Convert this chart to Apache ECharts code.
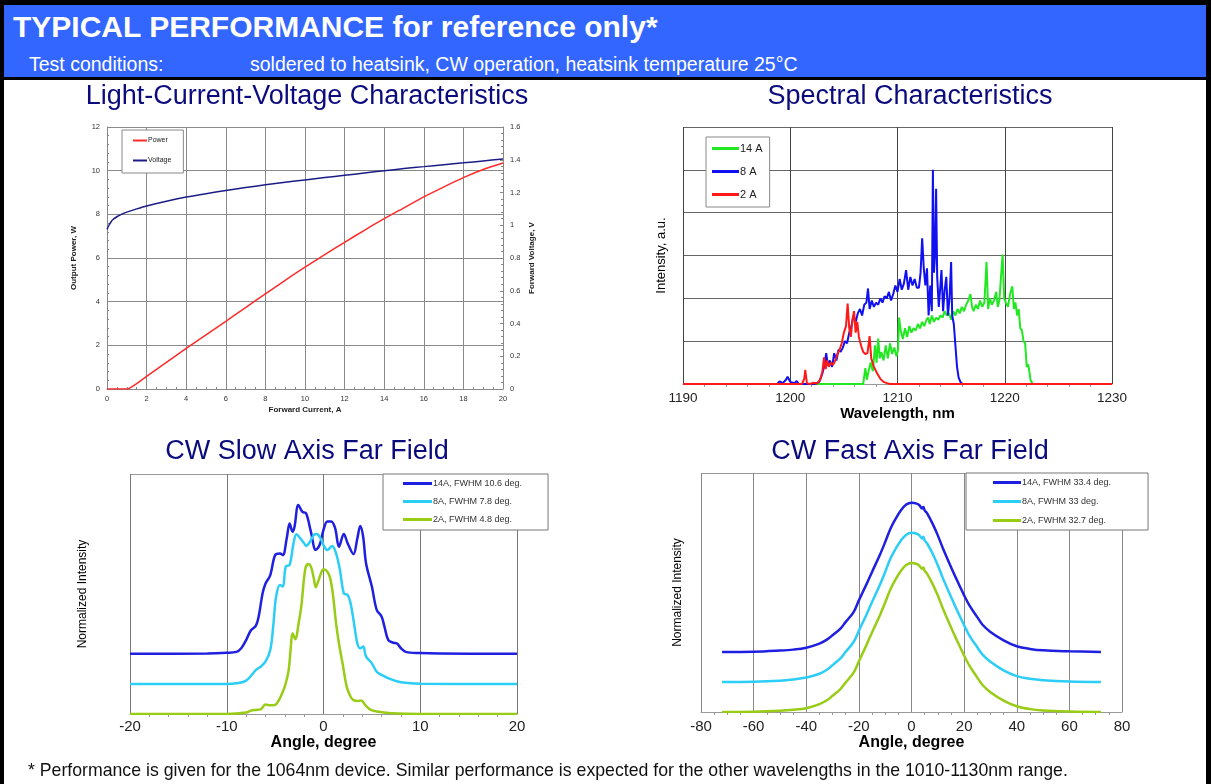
<!DOCTYPE html>
<html>
<head>
<meta charset="utf-8">
<script src="https://cdn.jsdelivr.net/npm/echarts@6/dist/echarts.min.js"></script>
<style>
  body { margin: 0; background: #fff; }
  #page { position: relative; width: 1211px; height: 784px; overflow: hidden; background: #fff; font-family: "Liberation Sans", Arial, sans-serif; }
  #chart { position: absolute; left: 0; top: 0; width: 1211px; height: 784px; }
  .bar { position: absolute; background: #000; z-index: 3; }
  #head { position: absolute; left: 4px; top: 5px; width: 1202px; height: 72px; background: #3366ff; color: #fff; z-index: 2; }
  #head .t1 { position: absolute; left: 9px; top: 5px; font-size: 30px; font-weight: bold; line-height: 34px; white-space: nowrap; }
  #head .t2 { position: absolute; left: 25px; top: 48px; font-size: 19.5px; line-height: 22px; white-space: nowrap; }
  #head .t3 { position: absolute; left: 246px; top: 48px; font-size: 19.5px; line-height: 22px; white-space: nowrap; }
  #note { position: absolute; left: 28px; top: 759px; font-size: 17.7px; line-height: 22px; color: #111; white-space: nowrap; z-index: 2; }
</style>
</head>
<body>
<div id="page">
  <div id="chart"></div>
  <div id="head">
    <div class="t1">TYPICAL PERFORMANCE for reference only*</div>
    <div class="t2">Test conditions:</div>
    <div class="t3">soldered to heatsink, CW operation, heatsink temperature 25°C</div>
  </div>
  <div class="bar" style="left:0;top:0;width:1211px;height:5px"></div>
  <div class="bar" style="left:0;top:0;width:4px;height:784px"></div>
  <div class="bar" style="left:1206px;top:0;width:5px;height:784px"></div>
  <div class="bar" style="left:0;top:77px;width:1211px;height:3px"></div>
  <div id="note">* Performance is given for the 1064nm device. Similar performance is expected for the other wavelengths in the 1010-1130nm range.</div>
</div>
<script>
// ---- Light-Current-Voltage: [current A, value]
var livPower = [[0,0],[0.5,0],[1,0],[1.1,0.02],[1.5,0.25],[2,0.58],[3,1.22],[4,1.86],[5,2.48],[6,3.1],[7,3.73],[8,4.36],[9,4.98],[10,5.58],[11,6.15],[12,6.72],[13,7.27],[14,7.8],[15,8.3],[16,8.8],[17,9.25],[18,9.68],[19,10.05],[20,10.35]];
var livVoltage = [[0,0.975],[0.1,1.0],[0.2,1.02],[0.3,1.035],[0.5,1.052],[0.75,1.068],[1,1.08],[1.5,1.1],[2,1.118],[3,1.147],[4,1.172],[5,1.193],[6,1.212],[7,1.23],[8,1.247],[9,1.262],[10,1.277],[11,1.291],[12,1.305],[13,1.319],[14,1.333],[15,1.346],[16,1.358],[17,1.37],[18,1.381],[19,1.393],[20,1.404]];

// ---- Spectra: [wavelength nm, intensity a.u.]
var spec14A = [[1190,0],[1206.8,0],[1207.0,0.37],[1207.15,0.1],[1207.3,0.3],[1207.5,0.5],[1207.7,0.3],[1207.9,0.9],[1208.05,0.5],[1208.2,1.06],[1208.35,0.6],[1208.5,0.75],[1208.7,0.55],[1208.9,0.9],[1209.1,0.6],[1209.3,0.95],[1209.5,0.7],[1209.7,0.85],[1209.9,0.65],[1210.05,0.8],[1210.15,1.55],[1210.3,1.25],[1210.5,1.05],[1210.7,1.3],[1210.9,1.1],[1211.1,1.35],[1211.3,1.2],[1211.5,1.3],[1211.7,1.25],[1211.9,1.4],[1212.1,1.3],[1212.3,1.45],[1212.5,1.35],[1212.7,1.5],[1212.85,1.55],[1213.0,1.4],[1213.2,1.6],[1213.4,1.45],[1213.6,1.55],[1213.8,1.5],[1214.0,1.6],[1214.2,1.55],[1214.4,1.7],[1214.6,1.6],[1214.8,1.65],[1215.0,1.5],[1215.2,1.7],[1215.4,1.6],[1215.6,1.75],[1215.8,1.65],[1216.0,1.8],[1216.2,1.7],[1216.4,1.85],[1216.6,1.95],[1216.8,2.1],[1216.95,1.8],[1217.1,1.7],[1217.3,1.85],[1217.5,1.75],[1217.7,1.95],[1217.9,1.8],[1218.1,1.9],[1218.3,2.85],[1218.45,1.75],[1218.6,2.0],[1218.8,1.85],[1219.0,1.95],[1219.2,2.15],[1219.35,1.8],[1219.5,1.95],[1219.65,2.5],[1219.8,3.02],[1219.95,2.0],[1220.1,1.9],[1220.3,1.8],[1220.5,2.1],[1220.7,2.28],[1220.85,1.75],[1221.0,1.9],[1221.15,1.6],[1221.3,1.75],[1221.45,1.3],[1221.6,1.25],[1221.75,1.0],[1221.9,0.95],[1222.05,0.4],[1222.2,0.45],[1222.4,0.1],[1222.6,0],[1230,0]];
var spec8A = [[1190,0],[1198.8,0],[1199.0,0.06],[1199.3,0.02],[1199.6,0.1],[1199.75,0.17],[1200.0,0.05],[1200.4,0.02],[1200.6,0.07],[1200.8,0],[1202.3,0],[1202.7,0.05],[1203.0,0.25],[1203.2,0.45],[1203.35,0.72],[1203.5,0.45],[1203.7,0.55],[1203.9,0.4],[1204.1,0.72],[1204.3,0.55],[1204.5,0.8],[1204.7,0.75],[1204.9,0.85],[1205.1,1.0],[1205.3,0.95],[1205.5,1.2],[1205.7,1.35],[1205.9,1.6],[1206.1,1.45],[1206.3,1.65],[1206.5,1.75],[1206.7,1.6],[1206.9,1.85],[1207.1,1.9],[1207.25,2.23],[1207.4,1.75],[1207.6,1.95],[1207.8,1.8],[1208.0,1.9],[1208.2,1.85],[1208.4,2.0],[1208.6,1.9],[1208.8,2.05],[1209.0,2.0],[1209.2,2.15],[1209.4,1.95],[1209.6,2.1],[1209.8,2.3],[1210.0,2.15],[1210.2,2.45],[1210.4,2.2],[1210.6,2.35],[1210.8,2.66],[1211.0,2.2],[1211.2,2.5],[1211.4,2.3],[1211.6,2.45],[1211.8,2.25],[1212.0,2.25],[1212.15,2.6],[1212.3,3.4],[1212.45,2.7],[1212.6,2.3],[1212.75,2.7],[1212.9,1.6],[1213.05,2.3],[1213.2,1.7],[1213.3,5.0],[1213.4,2.6],[1213.5,3.0],[1213.6,4.56],[1213.7,2.5],[1213.85,1.8],[1214.0,2.3],[1214.1,2.66],[1214.25,1.7],[1214.4,2.2],[1214.55,2.5],[1214.7,1.6],[1214.85,2.0],[1215.0,2.85],[1215.1,1.6],[1215.25,1.4],[1215.4,0.9],[1215.55,0.4],[1215.7,0.15],[1215.9,0.03],[1216.1,0],[1230,0]];
var spec2A = [[1190,0],[1201.1,0],[1201.3,0.12],[1201.4,0.33],[1201.55,0.02],[1201.8,0],[1202.2,0.03],[1202.5,0.01],[1202.8,0.1],[1203.0,0.3],[1203.15,0.62],[1203.3,0.35],[1203.45,0.55],[1203.6,0.4],[1203.8,0.5],[1204.0,0.45],[1204.2,0.55],[1204.4,0.7],[1204.6,0.8],[1204.8,0.95],[1205.0,1.2],[1205.2,1.35],[1205.35,1.88],[1205.5,1.3],[1205.65,1.1],[1205.8,1.5],[1205.95,1.7],[1206.1,1.2],[1206.25,1.45],[1206.4,1.1],[1206.6,0.9],[1206.8,0.75],[1207.0,0.7],[1207.2,0.72],[1207.4,1.12],[1207.55,0.6],[1207.8,0.4],[1208.1,0.25],[1208.4,0.12],[1208.7,0.05],[1209.0,0.02],[1209.3,0],[1230,0]];

// ---- Slow axis far field: [angle deg, normalized intensity, offset]
var slow14A = [[-20,25.1],[-12,25.2],[-10,25.5],[-9,25.9],[-8.5,27.4],[-8,30.8],[-7.5,34.9],[-7,36.7],[-6.7,40.6],[-6.3,50.2],[-6,54.3],[-5.5,57.9],[-5,66.2],[-4.5,66.9],[-4.2,66.2],[-3.8,73.2],[-3.5,79.4],[-3.2,75.9],[-3,77.9],[-2.6,87.1],[-2.2,84.3],[-1.8,83.6],[-1.3,75.9],[-0.8,68.4],[-0.4,70.4],[0,76.7],[0.4,80.2],[0.8,80.2],[1.2,77.4],[1.6,69.7],[2.1,75],[2.5,71.1],[3.1,66.6],[3.5,73.2],[3.8,78.3],[4.1,73.8],[4.4,62.7],[5,53.1],[5.5,43.4],[6,40.6],[6.3,36.4],[6.7,30.8],[7.2,29.7],[7.6,29.4],[8,27.4],[8.5,25.9],[10,25.4],[12,25.2],[20,25.1]];
var slow8A = [[-20,12.5],[-10,12.5],[-9,12.8],[-8,13.9],[-7,18.3],[-6.5,19.7],[-6,21.8],[-5.5,26.7],[-5.2,36.4],[-4.9,48.9],[-4.5,53.8],[-4.2,53.1],[-3.9,61.4],[-3.5,62.1],[-3.1,71.1],[-2.8,74.9],[-2.4,73.2],[-2,71.1],[-1.8,70],[-1.4,71.8],[-1,74.6],[-0.7,75],[-0.3,73.2],[0,70.4],[0.4,68.3],[0.9,70],[1.3,66.9],[1.7,60],[2.1,50.3],[2.5,49.6],[2.8,46.1],[3.1,39.2],[3.5,29.4],[3.8,27.4],[4.1,28.1],[4.4,23.9],[5,21.1],[5.5,17.6],[6,16.3],[7,14.4],[8,13.2],[10,12.6],[20,12.5]];
var slow2A = [[-20,0],[-10,0],[-8,0.6],[-7.5,1.4],[-7,1.7],[-6.5,1.9],[-6,4],[-5.5,3.6],[-5,3.8],[-4.6,5.8],[-4.2,9.3],[-3.9,12.8],[-3.6,18.3],[-3.4,26.7],[-3.2,33.6],[-2.9,31.1],[-2.6,37.1],[-2.3,44.7],[-1.9,60],[-1.6,62.5],[-1.3,61.4],[-1,56.5],[-0.8,52.8],[-0.5,55.8],[-0.2,59.3],[0,60.3],[0.4,59.3],[0.7,56.5],[1,48.9],[1.3,37.8],[1.6,29.4],[2,20.4],[2.4,11.4],[2.8,7.2],[3.1,5.8],[3.5,5.4],[3.9,5.6],[4.3,3.8],[4.8,1.9],[5.5,1],[7,0.3],[10,0],[20,0]];

// ---- Fast axis far field: [angle deg, normalized intensity]
var fast14A = [[-72,25.1],[-60,25.2],[-50,25.7],[-45,26.1],[-40,26.9],[-35,28.6],[-32,30.4],[-30,32.1],[-27,34.9],[-25,37.7],[-22,41.8],[-20,46.7],[-17,53.7],[-15,58.6],[-12,65.8],[-10,71.1],[-8,76.7],[-6,80.9],[-4,84.4],[-2,86.8],[0,87.6],[2,87.2],[3,86.5],[4,85.1],[4.5,85.8],[5,84.4],[6,83],[8,78.8],[10,73.9],[12,68.3],[15,60.7],[17,55.8],[20,48.8],[22,44.6],[25,39.7],[27,36.5],[30,33.5],[35,30],[40,27.5],[45,26.4],[50,25.8],[60,25.4],[72,25.1]];
var fast8A = [[-72,12.6],[-60,12.7],[-50,13.1],[-45,13.6],[-40,14.4],[-35,16.0],[-32,17.8],[-30,19.6],[-27,22.4],[-25,25.2],[-22,29.3],[-20,34.0],[-17,41.0],[-15,46.0],[-12,53.2],[-10,58.6],[-8,64.2],[-6,68.4],[-4,71.8],[-2,74.2],[0,75.0],[2,74.6],[3,73.9],[4,72.6],[4.5,73.3],[5,71.8],[6,70.4],[8,66.3],[10,61.4],[12,55.8],[15,48.2],[17,43.3],[20,36.3],[22,32.0],[25,27.1],[27,24.0],[30,21.0],[35,17.4],[40,15.0],[45,13.9],[50,13.3],[60,12.8],[72,12.6]];
var fast2A = [[-72,0],[-60,0.1],[-50,0.5],[-45,0.9],[-40,1.6],[-35,3.3],[-32,5.0],[-30,6.8],[-27,9.6],[-25,12.4],[-22,16.5],[-20,21.2],[-17,28.3],[-15,33.3],[-12,40.5],[-10,45.8],[-8,51.4],[-6,55.6],[-4,59.1],[-2,61.5],[0,62.3],[2,61.9],[3,61.2],[4,59.9],[4.5,60.5],[5,59.1],[6,57.7],[8,53.6],[10,48.7],[12,43.1],[15,35.5],[17,30.6],[20,23.6],[22,19.4],[25,14.4],[27,11.3],[30,8.3],[35,4.8],[40,2.4],[45,1.2],[50,0.6],[60,0.2],[72,0]];

var navy = "#0b0b7d";
var chart = echarts.init(document.getElementById("chart"));

// shared helper for the lower/spectral x axes
function bottomAxis(idx, min, max, interval, minorSplit, name, fs, nfs, margin, gap, gridColor) {
  return {
    type: "value", gridIndex: idx, min: min, max: max, interval: interval,
    name: name, nameLocation: "middle", nameGap: gap,
    nameTextStyle: { fontSize: nfs, fontWeight: "bold", color: "#000" },
    axisLine: { show: true, lineStyle: { color: "#999", width: 1 } },
    axisTick: { show: false },
    minorTick: { show: true, splitNumber: minorSplit, length: 3, lineStyle: { color: "#999" } },
    axisLabel: { fontSize: fs, color: "#222", margin: margin, formatter: function (v) { return String(v); } },
    splitLine: { show: true, lineStyle: { color: gridColor, width: 1 } }
  };
}

var option = {
  animation: false,
  textStyle: { fontFamily: "Liberation Sans, Arial, sans-serif" },
  graphic: [
    { type: "text", x: 307, y: 97, style: { text: "Light-Current-Voltage Characteristics", font: "27px Liberation Sans", fill: navy, align: "center", verticalAlign: "middle" } },
    { type: "text", x: 910, y: 97, style: { text: "Spectral Characteristics", font: "27px Liberation Sans", fill: navy, align: "center", verticalAlign: "middle" } },
    { type: "text", x: 307, y: 452, style: { text: "CW Slow Axis Far Field", font: "27px Liberation Sans", fill: navy, align: "center", verticalAlign: "middle" } },
    { type: "text", x: 910, y: 452, style: { text: "CW Fast Axis Far Field", font: "27px Liberation Sans", fill: navy, align: "center", verticalAlign: "middle" } }
  ],
  grid: [
    { left: 107, top: 127, width: 396, height: 262 },
    { left: 683, top: 127, width: 429, height: 257 },
    { left: 130, top: 474, width: 387, height: 240 },
    { left: 701, top: 473, width: 421, height: 239 }
  ],
  legend: [
    {
      data: ["Power", "Voltage"], orient: "vertical", left: 122, top: 130,
      padding: [7, 12, 9, 11], itemGap: 13, itemWidth: 14, itemHeight: 2, icon: "rect",
      borderColor: "#888", borderWidth: 1, backgroundColor: "#fff",
      textStyle: { fontSize: 7, color: "#222", padding: [0, 0, 0, -4] }
    },
    {
      data: ["14 A", "8 A", "2 A"], orient: "vertical", left: 706, top: 137,
      padding: [6, 7, 7, 6], itemGap: 12, itemWidth: 27, itemHeight: 3, icon: "rect",
      borderColor: "#888", borderWidth: 1, backgroundColor: "#fff",
      textStyle: { fontSize: 11, color: "#222", padding: [0, 0, 0, -4] }
    },
    {
      data: ["14A, FWHM 10.6 deg.", "8A, FWHM 7.8 deg.", "2A, FWHM 4.8 deg."], orient: "vertical", left: 383, top: 474,
      padding: [5, 26, 6, 20], itemGap: 9, itemWidth: 29, itemHeight: 3, icon: "rect",
      borderColor: "#777", borderWidth: 1, backgroundColor: "#fff",
      textStyle: { fontSize: 9, color: "#333", padding: [0, 0, 0, -4] }
    },
    {
      data: ["14A, FWHM 33.4 deg.", "8A, FWHM 33 deg.", "2A, FWHM 32.7 deg."], orient: "vertical", left: 966, top: 473,
      padding: [5, 37, 5, 27], itemGap: 10, itemWidth: 28, itemHeight: 3, icon: "rect",
      borderColor: "#777", borderWidth: 1, backgroundColor: "#fff",
      textStyle: { fontSize: 9, color: "#333", padding: [0, 0, 0, -4] }
    }
  ],
  xAxis: [
    {
      type: "value", gridIndex: 0, min: 0, max: 20, interval: 2,
      name: "Forward Current, A", nameLocation: "middle", nameGap: 17,
      nameTextStyle: { fontSize: 8, fontWeight: "bold", color: "#222" },
      axisLine: { lineStyle: { color: "#888" } },
      axisTick: { inside: true, length: 3, lineStyle: { color: "#888" } },
      minorTick: { show: true, splitNumber: 4, length: 2, lineStyle: { color: "#888" } },
      axisLabel: { fontSize: 7.5, color: "#333", margin: 6 },
      splitLine: { show: true, lineStyle: { color: "#8a8a8a" } }
    },
    bottomAxis(1, 1190, 1230, 10, 5, "Wavelength, nm", 13.5, 15, 7, 20, "#444"),
    bottomAxis(2, -20, 20, 10, 5, "Angle, degree", 15, 16, 5, 15, "#777"),
    bottomAxis(3, -80, 80, 20, 4, "Angle, degree", 15, 16, 7, 16, "#888")
  ],
  yAxis: [
    {
      type: "value", gridIndex: 0, min: 0, max: 12, interval: 2,
      name: "Output Power, W", nameLocation: "middle", nameGap: 29,
      nameTextStyle: { fontSize: 8, fontWeight: "bold", color: "#222" },
      axisLine: { show: true, lineStyle: { color: "#888" } },
      axisTick: { show: true, inside: true, length: 3, lineStyle: { color: "#888" } },
      minorTick: { show: true, splitNumber: 5, length: 2, lineStyle: { color: "#888" } },
      axisLabel: { fontSize: 7.5, color: "#333", margin: 7 },
      splitLine: { show: true, lineStyle: { color: "#8a8a8a" } }
    },
    {
      type: "value", gridIndex: 0, position: "right", min: 0, max: 1.6, interval: 0.2,
      name: "Forward Voltage, V", nameLocation: "middle", nameGap: 25,
      nameTextStyle: { fontSize: 8, fontWeight: "bold", color: "#222" },
      axisLine: { show: true, lineStyle: { color: "#888" } },
      axisTick: { show: true, inside: true, length: 3, lineStyle: { color: "#888" } },
      minorTick: { show: true, splitNumber: 5, length: 2, lineStyle: { color: "#888" } },
      axisLabel: { fontSize: 7.5, color: "#333", margin: 7 },
      splitLine: { show: false }
    },
    {
      type: "value", gridIndex: 1, min: 0, max: 6, interval: 1,
      name: "Intensity, a.u.", nameLocation: "middle", nameGap: 15,
      nameTextStyle: { fontSize: 13, color: "#000" },
      axisLine: { show: false }, axisTick: { show: false }, axisLabel: { show: false },
      splitLine: { show: true, lineStyle: { color: "#666" } }
    },
    {
      type: "value", gridIndex: 2, min: 0, max: 100, interval: 100,
      name: "Normalized Intensity", nameLocation: "middle", nameGap: 41,
      nameTextStyle: { fontSize: 12, color: "#000" },
      axisLine: { show: false }, axisTick: { show: false }, axisLabel: { show: false },
      splitLine: { show: true, lineStyle: { color: "#999" } }
    },
    {
      type: "value", gridIndex: 3, min: 0, max: 100, interval: 100,
      name: "Normalized Intensity", nameLocation: "middle", nameGap: 17,
      nameTextStyle: { fontSize: 12, color: "#000" },
      axisLine: { show: false }, axisTick: { show: false }, axisLabel: { show: false },
      splitLine: { show: true, lineStyle: { color: "#999" } }
    }
  ],
  series: [
    { name: "Power", type: "line", xAxisIndex: 0, yAxisIndex: 0, data: livPower, symbol: "none", smooth: 0.3, lineStyle: { color: "#ff2a2a", width: 1.5 }, itemStyle: { color: "#ff2a2a" } },
    { name: "Voltage", type: "line", xAxisIndex: 0, yAxisIndex: 1, data: livVoltage, symbol: "none", smooth: 0.3, lineStyle: { color: "#1c1c86", width: 1.5 }, itemStyle: { color: "#1c1c86" } },

    { name: "14 A", type: "line", xAxisIndex: 1, yAxisIndex: 2, data: spec14A, symbol: "none", lineStyle: { color: "#22e822", width: 2 }, itemStyle: { color: "#22e822" } },
    { name: "8 A", type: "line", xAxisIndex: 1, yAxisIndex: 2, data: spec8A, symbol: "none", lineStyle: { color: "#1010f0", width: 2 }, itemStyle: { color: "#1010f0" } },
    { name: "2 A", type: "line", xAxisIndex: 1, yAxisIndex: 2, data: spec2A, symbol: "none", lineStyle: { color: "#ff1a1a", width: 2 }, itemStyle: { color: "#ff1a1a" } },

    { name: "14A, FWHM 10.6 deg.", type: "line", xAxisIndex: 2, yAxisIndex: 3, data: slow14A, symbol: "none", smooth: 0.35, lineStyle: { color: "#1f1fe0", width: 2.5 }, itemStyle: { color: "#1f1fe0" } },
    { name: "8A, FWHM 7.8 deg.", type: "line", xAxisIndex: 2, yAxisIndex: 3, data: slow8A, symbol: "none", smooth: 0.35, lineStyle: { color: "#2ccdf6", width: 2.5 }, itemStyle: { color: "#2ccdf6" } },
    { name: "2A, FWHM 4.8 deg.", type: "line", xAxisIndex: 2, yAxisIndex: 3, data: slow2A, symbol: "none", smooth: 0.35, lineStyle: { color: "#99cc14", width: 2.5 }, itemStyle: { color: "#99cc14" } },

    { name: "14A, FWHM 33.4 deg.", type: "line", xAxisIndex: 3, yAxisIndex: 4, data: fast14A, symbol: "none", smooth: 0.35, lineStyle: { color: "#1f1fe0", width: 2.5 }, itemStyle: { color: "#1f1fe0" } },
    { name: "8A, FWHM 33 deg.", type: "line", xAxisIndex: 3, yAxisIndex: 4, data: fast8A, symbol: "none", smooth: 0.35, lineStyle: { color: "#2ccdf6", width: 2.5 }, itemStyle: { color: "#2ccdf6" } },
    { name: "2A, FWHM 32.7 deg.", type: "line", xAxisIndex: 3, yAxisIndex: 4, data: fast2A, symbol: "none", smooth: 0.35, lineStyle: { color: "#99cc14", width: 2.5 }, itemStyle: { color: "#99cc14" } }
  ]
};

chart.setOption(option);
</script>
</body>
</html>
